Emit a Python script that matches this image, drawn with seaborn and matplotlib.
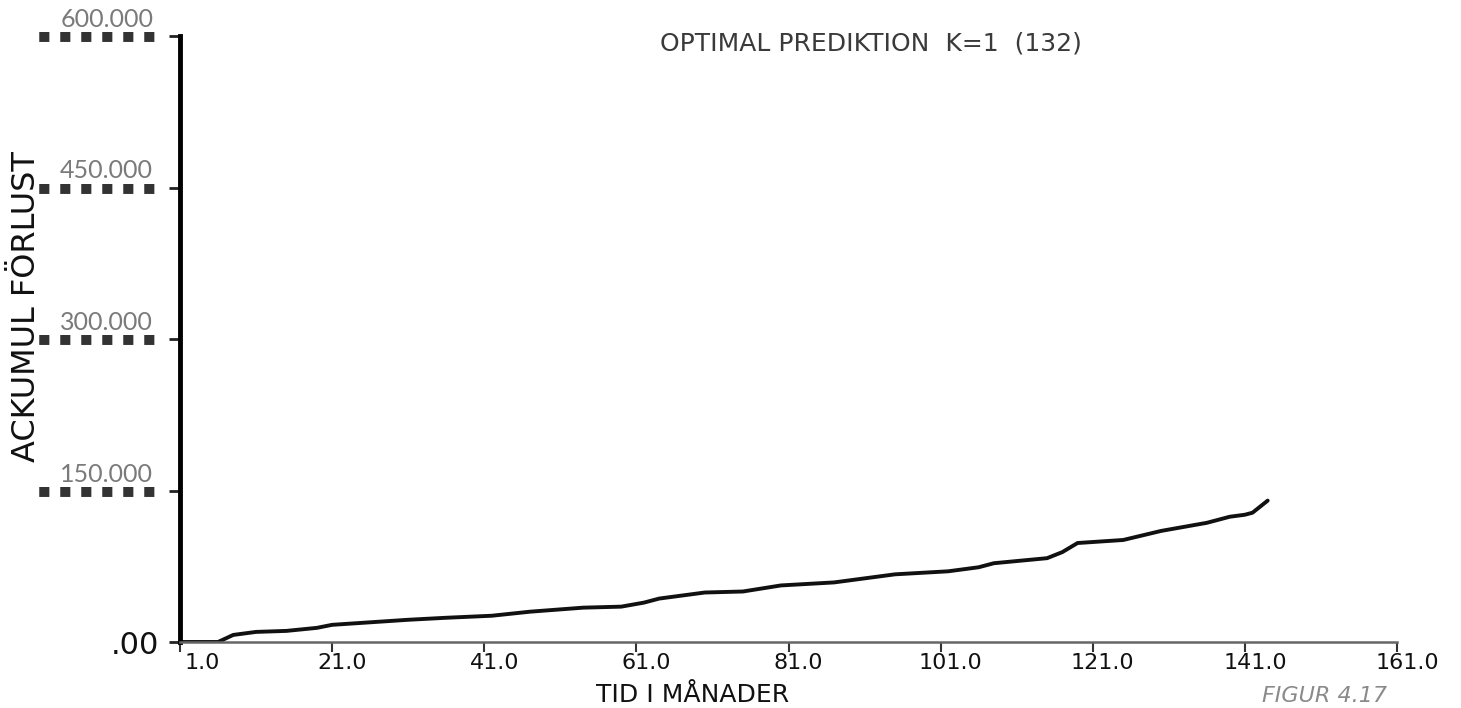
import matplotlib
matplotlib.use("Agg")
import matplotlib.pyplot as plt
import seaborn as sns
import pandas as pd
from matplotlib import font_manager
from matplotlib.transforms import ScaledTranslation, blended_transform_factory

# ---- data ----
months = [1, 6, 8, 11, 15, 19, 21, 27, 31, 36, 42, 47, 54, 59, 62, 64, 70, 75,
          80, 87, 91, 95, 102, 106, 108, 115, 117, 119, 125, 130, 136, 139,
          141, 142, 144]
loss = [0, 0, 7000, 10000, 11000, 14000, 17000, 20000, 22000, 24000, 26000,
        30000, 34000, 35000, 39000, 43000, 49000, 50000, 56000, 59000, 63000,
        67000, 70000, 74000, 78000, 83000, 89000, 98000, 101000, 110000,
        118000, 124000, 126000, 128000, 140000]

x_ticks = [1, 21, 41, 61, 81, 101, 121, 141, 161]
x_tick_labels = ["1.0", "21.0", "41.0", "61.0", "81.0", "101.0", "121.0",
                 "141.0", "161.0"]
y_ticks = [0, 150000, 300000, 450000, 600000]
y_tick_labels = [".00", "150.000", "300.000", "450.000", "600.000"]

title = "OPTIMAL PREDIKTION  K=1  (132)"
x_label = "TID I MÅNADER"
y_label = "ACKUMUL FÖRLUST"
note = "FIGUR 4.17"

# ---- style ----
sns.set_style("ticks")
available = {f.name for f in font_manager.fontManager.ttflist}
printed = "Liberation Sans Narrow" if "Liberation Sans Narrow" in available else "DejaVu Sans"
hand = "Lato" if "Lato" in available else "DejaVu Sans"
plt.rcParams["font.family"] = ["DejaVu Sans"]

W, H = 1461, 708
fig = plt.figure(figsize=(W / 100, H / 100), dpi=100)
x0, x1 = 180, 1397
y0, y1 = 642, 36
ax = fig.add_axes([x0 / W, 1 - y0 / H, (x1 - x0) / W, (y0 - y1) / H])

df = pd.DataFrame({"month": months, "loss": loss})
sns.lineplot(data=df, x="month", y="loss", ax=ax, color="#111111",
             linewidth=2.8)

ax.set_xlim(1, 161)
ax.set_ylim(0, 600000)
sns.despine(ax=ax)
ax.spines["left"].set_linewidth(3.5)
ax.spines["left"].set_color("black")
ax.spines["bottom"].set_linewidth(1.8)
ax.spines["bottom"].set_color("#666666")

# x ticks
ax.set_xticks(x_ticks)
ax.set_xticklabels(x_tick_labels, fontfamily=printed, fontsize=16,
                   color="#111111")
ax.tick_params(axis="x", length=7, width=1.5, color="#333333", pad=1)
for i, lbl in enumerate(ax.get_xticklabels()):
    dx = 0.22 if i == 0 else 0.10
    lbl.set_transform(lbl.get_transform()
                      + ScaledTranslation(dx, 0, fig.dpi_scale_trans))

# y ticks
ax.set_yticks(y_ticks)
ax.set_yticklabels(y_tick_labels)
ax.tick_params(axis="y", length=8, width=2, color="#222222", pad=7)
for lbl, v in zip(ax.get_yticklabels(), y_ticks):
    if v == 0:
        lbl.set_fontfamily(printed)
        lbl.set_fontsize(22)
        lbl.set_color("#111111")
    else:
        lbl.set_fontfamily(hand)
        lbl.set_fontsize(18)
        lbl.set_color("#7a7a7a")
        lbl.set_va("bottom")
        lbl.set_transform(lbl.get_transform()
                          + ScaledTranslation(-0.06, 0.05, fig.dpi_scale_trans))

blend = blended_transform_factory(ax.transAxes, ax.transData)
for v in y_ticks[1:]:
    ax.text(-25 / (x1 - x0), v, "■  ■  ■  ■  ■  ■", transform=blend,
            ha="right", va="center", fontsize=9.5, color="#333333")

ax.set_xlabel(x_label, fontfamily=printed, fontsize=18, color="#111111",
              va="bottom")
ax.xaxis.set_label_coords((693 - x0) / (x1 - x0), -(707 - y0) / (y0 - y1))
ax.set_ylabel(y_label, fontfamily=printed, fontsize=23, color="#111111")
ax.yaxis.set_label_coords(-(x0 - 42) / (x1 - x0), (y0 - 307) / (y0 - y1))

fig.text(871 / W, 1 - 44 / H, title, ha="center", va="center",
         fontfamily=printed, fontsize=18, color="#3a3a3a")
fig.text(1262 / W, 1 - 706 / H, note, ha="left", va="bottom",
         fontfamily=printed, fontsize=16, style="italic", color="#8a8a8a")

fig.savefig("out.png", dpi=100)
